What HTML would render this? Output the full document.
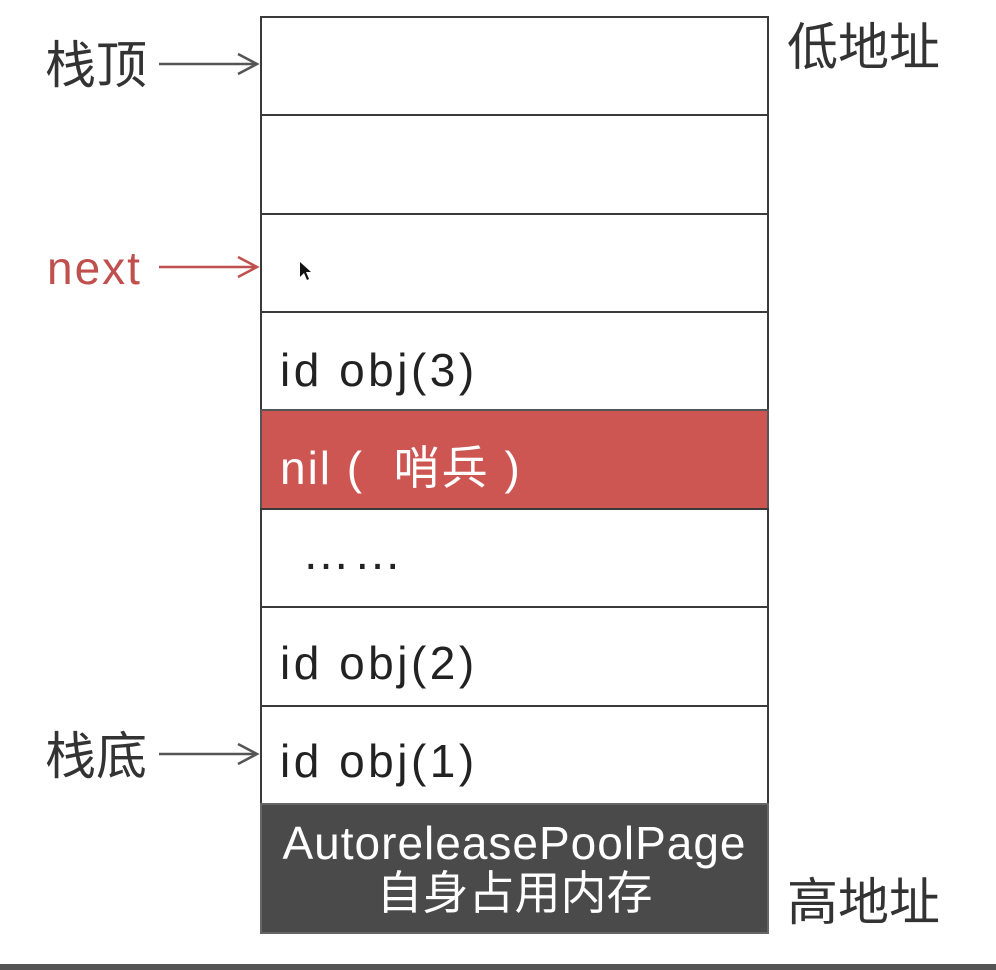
<!DOCTYPE html>
<html><head><meta charset="utf-8"><style>
body{margin:0;width:996px;height:970px;background:#fff;position:relative;overflow:hidden;font-family:"Liberation Sans","Noto Sans CJK SC",sans-serif}
.r{position:absolute;left:260px;width:509px;border:2px solid #3a3a3a;box-sizing:border-box;}
.t{position:absolute;left:280px;font-size:46px;color:#222;line-height:1;letter-spacing:3.5px;white-space:pre}
.l{position:absolute;font-size:51px;line-height:1;color:#333}
</style></head><body>
<div class="r" style="top:16px;height:100px"></div>
<div class="r" style="top:114px;height:101px"></div>
<div class="r" style="top:213px;height:100px"></div>
<div class="r" style="top:311px;height:100px"></div>
<div class="r" style="top:409px;height:101px;background:#cd5552;border-color:#555"></div>
<div class="r" style="top:508px;height:100px"></div>
<div class="r" style="top:606px;height:101px"></div>
<div class="r" style="top:705px;height:100px"></div>
<div class="r" style="top:803px;height:131px;background:#4a4a4a;border-color:#666"></div>
<div class="t" style="top:347px">id obj(3)</div>
<div class="t" style="top:445px;color:#fff;letter-spacing:2px">nil (  哨兵 )</div>
<div class="t" style="top:530px;left:302px;font-size:48px">……</div>
<div class="t" style="top:640px">id obj(2)</div>
<div class="t" style="top:738px">id obj(1)</div>
<div style="position:absolute;left:260px;width:509px;top:818px;text-align:center;color:#fff;font-size:46px;line-height:50px"><span style="letter-spacing:1px">AutoreleasePoolPage</span><br>自身占用内存</div>
<div class="l" style="left:45px;top:40px">栈顶</div>
<div class="l" style="left:47px;top:245px;color:#c0504d;font-size:46px;letter-spacing:2px">next</div>
<div class="l" style="left:45px;top:731px">栈底</div>
<div class="l" style="left:787px;top:22px">低地址</div>
<div class="l" style="left:787px;top:877px">高地址</div>
<svg width="996" height="970" style="position:absolute;left:0;top:0">
<g stroke="#555" stroke-width="2.5" fill="none">
<path d="M159 64H257M238 54L257 64L238 74"/>
<path d="M159 754H257M238 744L257 754L238 764"/>
</g>
<g stroke="#c0504d" stroke-width="2.5" fill="none">
<path d="M159 267H257M238 257L257 267L238 277"/>
</g>
<path d="M300 262L300 277L304 273L307 280L309 279L306 272L311 272Z" fill="#111"/>
<rect x="0" y="964" width="996" height="6" fill="#555"/>
</svg>
</body></html>
